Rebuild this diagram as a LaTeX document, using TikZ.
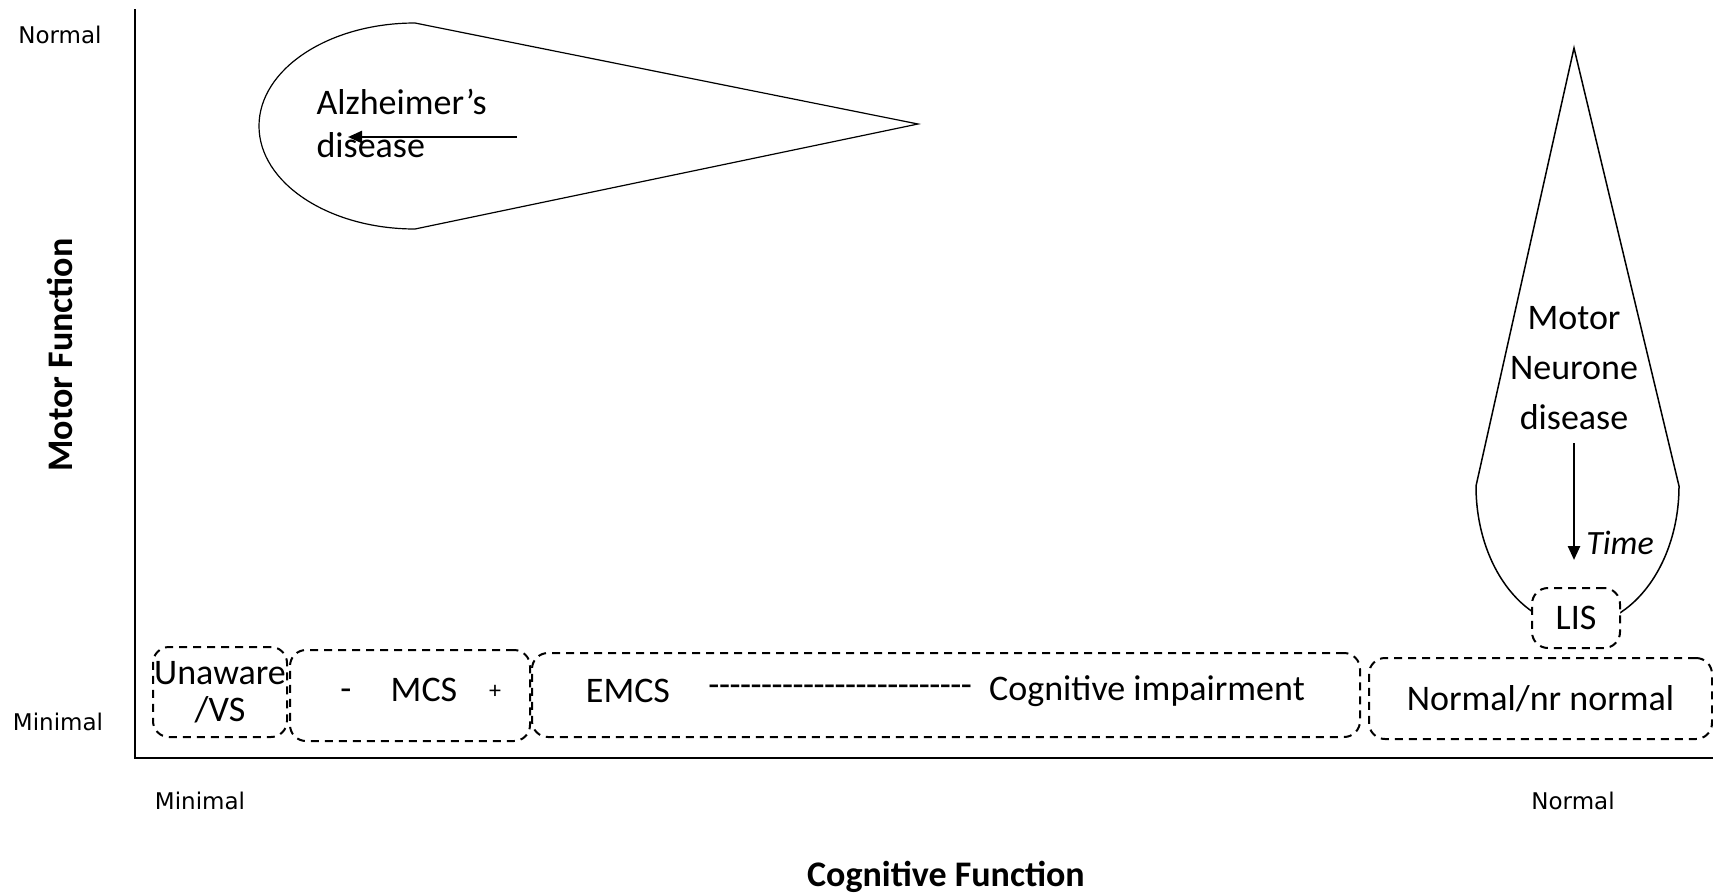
\documentclass[tikz,border=0pt]{standalone}
\usepackage{fontspec}
\setmainfont{Carlito}
\newfontfamily\tickfont{DejaVu Sans}
\usetikzlibrary{arrows.meta}
% a row of separate hyphens (kerns keep them from joining into dashes)
\newcommand\hyphenrow[1]{\foreach \k in {1,...,#1}{-\kern-0.5pt}}
\begin{document}
\begin{tikzpicture}[x=1pt,y=-1pt,
  big/.style={font=\fontsize{36}{44}\selectfont},
  stage/.style={draw, line width=2pt, dash pattern=on 8pt off 6pt,
    rounded corners=16pt, inner sep=0pt, fill=white, align=center,
    font=\fontsize{36}{37}\selectfont},
  ticklabel/.style={font=\tickfont\fontsize{23}{28}\selectfont},
  axistitle/.style={font=\bfseries\fontsize{36}{44}\selectfont},
  drop/.style={draw, line width=1.5pt},
  trend/.style={line width=2.5pt, -{Triangle[length=14pt,width=12pt]}}
]
\useasboundingbox (0,0) rectangle (1713,895);

% axes
\coordinate (ytop) at (135,9);
\coordinate (origin) at (135,758);
\coordinate (xend) at (1713,758);
\draw[line width=2pt] (ytop) -- (origin) -- (xend);

% axis labels
\node[ticklabel] (ynormal) at (60,35) {Normal};
\node[ticklabel] (yminimal) at (58,722) {Minimal};
\node[axistitle, rotate=90] (ytitle) at (60,355) {Motor Function};
\node[ticklabel] (xminimal) at (200,801) {Minimal};
\node[ticklabel] (xnormal) at (1573,801) {Normal};
\node[axistitle] (xtitle) at (946,877) {Cognitive Function};

% Alzheimer's disease teardrop
\draw[line width=1.2pt] (415,23) .. controls (329,23) and (259,69) .. (259,126)
  .. controls (259,183) and (329,229) .. (415,229) -- (918,124) -- cycle;
\node[big, align=left, anchor=west, font=\fontsize{36}{43}\selectfont] (ad) at (313,123) {Alzheimer’s\\disease};
\coordinate (adfrom) at (517,137);
\coordinate (adto) at (348,137);
\draw[trend] (adfrom) -- (adto);

% Motor neurone disease teardrop
\draw[drop] (1476,486) -- (1574,48) -- (1679,486)
  .. controls (1679,563) and (1633,626) .. (1577,626)
  .. controls (1521,626) and (1476,563) .. (1476,486);
\node[align=center, font=\fontsize{36}{50}\selectfont] (mnd) at (1574,368) {Motor\\Neurone\\disease};
\coordinate (mndfrom) at (1574,443);
\coordinate (mndto) at (1574,560);
\draw[trend] (mndfrom) -- (mndto);
\node[font=\itshape\fontsize{34}{40}\selectfont] (time) at (1620,543) {Time};

% stages along the cognitive axis
\node[stage, minimum width=134pt, minimum height=90pt] (unaware) at (220,692) {Unaware\\/VS};
\node[stage, minimum width=240pt, minimum height=91pt] (mcs) at (410,695.5) {};
\node[big] (minus) at (346,695) {-};
\node[big] (mcstext) at (424,690) {MCS};
\node[font=\fontsize{24}{28}\selectfont] (plus) at (495,692) {+};
\node[stage, minimum width=828pt, minimum height=84pt] (emcs) at (946,695) {};
\node[big] (emcstext) at (628,691) {EMCS};
\node[big] (hyphens) at (840,691) {\hyphenrow{25}};
\node[big] (cogimp) at (1147,691) {Cognitive impairment};
\node[stage, minimum width=343pt, minimum height=81pt] (normal) at (1540.5,698.5) {Normal/nr normal};
\node[stage, minimum width=88pt, minimum height=60pt] (lis) at (1576,618) {LIS};
\end{tikzpicture}
\end{document}
